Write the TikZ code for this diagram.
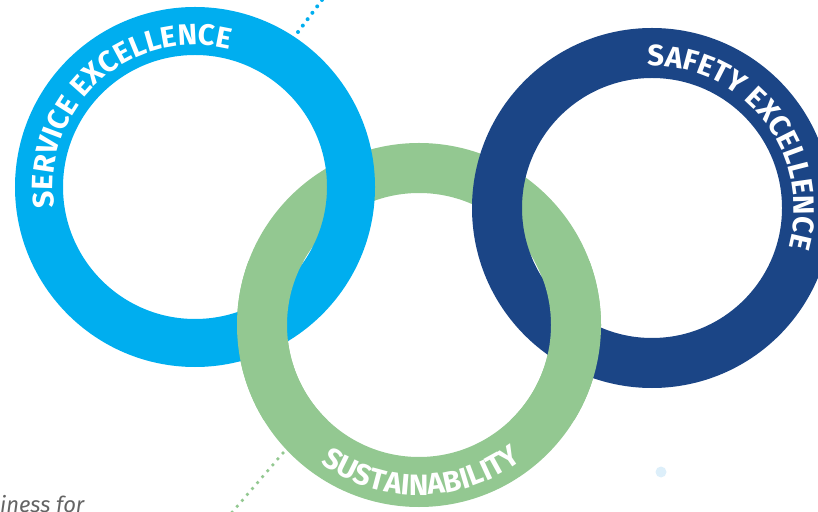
\documentclass[tikz,border=0pt]{standalone}
\usepackage{fontspec}
\setsansfont{Fira Sans}
\usetikzlibrary{decorations.text}
\definecolor{lblue}{RGB}{0,174,239}
\definecolor{dblue}{RGB}{27,69,134}
\definecolor{lgreen}{RGB}{147,200,145}
\definecolor{paleblue}{RGB}{221,239,250}
\definecolor{txtgray}{RGB}{100,100,100}
\tikzset{
  ringlabel/.style={decorate, decoration={text along path, text align=center,
     text={|\sffamily\bfseries\fontsize{29.5}{30}\selectfont\color{white}|#1}}},
  bluedots/.style={lblue, line width=4pt, line cap=round, dash pattern=on 0pt off 8pt},
  greendots/.style={lgreen, line width=3.8pt, line cap=round, dash pattern=on 0pt off 7.8pt}
}
\begin{document}
\begin{tikzpicture}[x=1pt,y=1pt]
\useasboundingbox (0,0) rectangle (818,511);
\clip (0,0) rectangle (818,511);
\coordinate (cs) at (195,324);
\coordinate (cg) at (419,186);
\coordinate (cd) at (652,303);
% rings
\draw[lgreen, line width=50pt] (cg) circle[radius=157];
\draw[lblue, line width=48pt] (cs) circle[radius=156];
\draw[dblue, line width=50pt] (cd) circle[radius=155];
% green over the lower crossings
\begin{scope}
  \clip (200,91) rectangle (345,249);
  \draw[lgreen, line width=50pt] (cg) circle[radius=157];
\end{scope}
\begin{scope}
  \clip (493,91) rectangle (660,249);
  \draw[lgreen, line width=50pt] (cg) circle[radius=157];
\end{scope}
% labels
\path[ringlabel={SERVICE EXCELLENCE}] (cs) ++(212:142) arc[start angle=212, end angle=52, radius=142];
\path[ringlabel={SAFETY EXCELLENCE}] (cd) ++(118:142) arc[start angle=118, end angle=-42, radius=142];
\path[ringlabel={SUSTAINABILITY}] (cg) ++(211:170) arc[start angle=211, end angle=331, radius=170];
% dotted lines
\coordinate (bd1) at (298,479);
\coordinate (bd2) at (334,527);
\draw[bluedots] (bd1) -- (bd2);
\coordinate (gd1) at (283,58);
\coordinate (gd2) at (228,-6);
\draw[greendots] (gd1) -- (gd2);
\fill[paleblue] (661,39) circle[radius=5.5];
\node[anchor=base west, inner sep=0pt, text=txtgray, font=\sffamily\itshape\fontsize{22}{22}\selectfont] (frag) at (0,-1) {iness for};
\end{tikzpicture}
\end{document}
